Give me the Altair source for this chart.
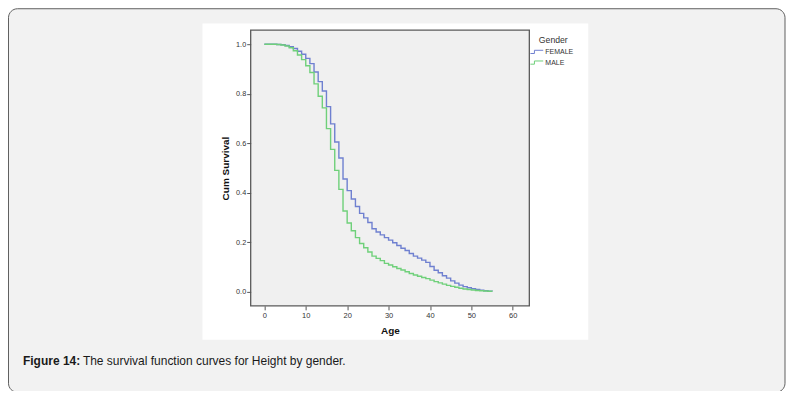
import altair as alt
import pandas as pd

ages = list(range(56))
female = [1.0, 1.0, 1.0, 0.999, 0.998, 0.995, 0.99, 0.983, 0.972, 0.96,
          0.943, 0.922, 0.888, 0.849, 0.811, 0.748, 0.678, 0.605, 0.54, 0.455,
          0.408, 0.374, 0.344, 0.316, 0.298, 0.279, 0.254, 0.241, 0.229, 0.218,
          0.208, 0.197, 0.186, 0.175, 0.166, 0.154, 0.143, 0.135, 0.127, 0.118,
          0.101, 0.086, 0.076, 0.064, 0.054, 0.043, 0.034, 0.026, 0.02, 0.015,
          0.011, 0.008, 0.005, 0.003, 0.001, 0.0]
male = [1.0, 1.0, 1.0, 0.999, 0.997, 0.993, 0.986, 0.974, 0.957, 0.938,
        0.913, 0.886, 0.84, 0.79, 0.743, 0.659, 0.575, 0.49, 0.413, 0.326,
        0.277, 0.246, 0.218, 0.194, 0.177, 0.16, 0.143, 0.134, 0.125, 0.114,
        0.107, 0.1, 0.093, 0.087, 0.08, 0.073, 0.067, 0.062, 0.057, 0.052,
        0.046, 0.04, 0.035, 0.03, 0.025, 0.021, 0.017, 0.013, 0.01, 0.008,
        0.006, 0.004, 0.003, 0.002, 0.001, 0.0]
genders = ["FEMALE", "MALE"]
colors = ["#6f80d0", "#6fd07a"]
x_ticks = [0, 10, 20, 30, 40, 50, 60]
y_ticks = [0.0, 0.2, 0.4, 0.6, 0.8, 1.0]
caption_bold = "Figure 14:"
caption_text = "The survival function curves for Height by gender."

W, H = 279, 276
FONT = "Liberation Sans"

df = pd.DataFrame({
    "Age": ages + ages,
    "Surv": female + male,
    "Gender": ["FEMALE"] * len(ages) + ["MALE"] * len(ages),
})
one = pd.DataFrame({"k": [0]})

box = alt.Chart(one).mark_rect(
    fill="#f2f2f2", stroke="#5e5e5e", strokeWidth=1, cornerRadius=9
).encode(x=alt.value(-242.5), x2=alt.value(535), y=alt.value(-21.5), y2=alt.value(362.5))

white = alt.Chart(one).mark_rect(fill="white").encode(
    x=alt.value(-48.3), x2=alt.value(338), y=alt.value(-6.7), y2=alt.value(310)
)

plotbg = alt.Chart(one).mark_rect(fill="#f0f0f0").encode(
    x=alt.value(0), x2=alt.value(W), y=alt.value(0), y2=alt.value(H)
)

lines = alt.Chart(df).mark_line(interpolate="step-after", strokeWidth=1.4).encode(
    x=alt.X("Age:Q",
            scale=alt.Scale(domain=[-3.3, 64], nice=False, zero=False),
            axis=alt.Axis(values=x_ticks, title="Age", format="d", grid=False, domain=False,
                          tickSize=4, tickColor="#555", labelPadding=2,
                          labelFontSize=7.5, labelColor="#333", labelFont=FONT,
                          titleFont=FONT, titleFontSize=10, titleFontWeight="bold",
                          titleColor="#111", titlePadding=6, zindex=1)),
    y=alt.Y("Surv:Q",
            scale=alt.Scale(domain=[-0.058, 1.057], nice=False, zero=False),
            axis=alt.Axis(values=y_ticks, title="Cum Survival", format=".1f", grid=False,
                          domain=False, tickSize=4, tickColor="#555", labelPadding=1,
                          labelFontSize=7.3, labelColor="#333", labelFont=FONT,
                          titleFont=FONT, titleFontSize=10, titleFontWeight="bold",
                          titleColor="#111", titlePadding=5, zindex=1)),
    color=alt.Color("Gender:N",
                    scale=alt.Scale(domain=genders, range=colors),
                    legend=alt.Legend(orient="none", legendX=282, legendY=5.5,
                                      title="Gender", titleFont=FONT, titleFontSize=8.7,
                                      titleFontWeight="normal", titleColor="#333",
                                      titleAnchor="middle", titlePadding=3,
                                      labelFont=FONT, labelFontSize=7, labelColor="#333",
                                      labelOffset=4,
                                      symbolType="M -1.6 0.4 L -0.6 0.4 L -0.6 -0.4 L 1.6 -0.4",
                                      symbolSize=64, symbolStrokeWidth=1,
                                      symbolFillColor="transparent",
                                      rowPadding=1.7, padding=0, zindex=1)),
)

frame = alt.Chart(one).mark_rect(
    fillOpacity=0, stroke="#5a5a5a", strokeWidth=1.3
).encode(x=alt.value(0), x2=alt.value(W), y=alt.value(0), y2=alt.value(H))

cap1 = alt.Chart(one).mark_text(
    align="left", baseline="middle", font=FONT, fontSize=12, fontWeight="bold", color="#1a1a1a"
).encode(x=alt.value(-228), y=alt.value(331), text=alt.value(caption_bold))

cap2 = alt.Chart(one).mark_text(
    align="left", baseline="middle", font=FONT, fontSize=12, color="#1a1a1a"
).encode(x=alt.value(-168), y=alt.value(331), text=alt.value(caption_text))

chart = alt.layer(box, white, plotbg, lines, frame, cap1, cap2).properties(
    width=W, height=H,
    padding={"left": 243, "top": 22, "right": 257, "bottom": 85},
    autosize=alt.AutoSizeParams(type="none"),
    background="white",
).configure_view(stroke=None)

chart.save("out.html", embed_options={"renderer": "svg", "actions": False})
